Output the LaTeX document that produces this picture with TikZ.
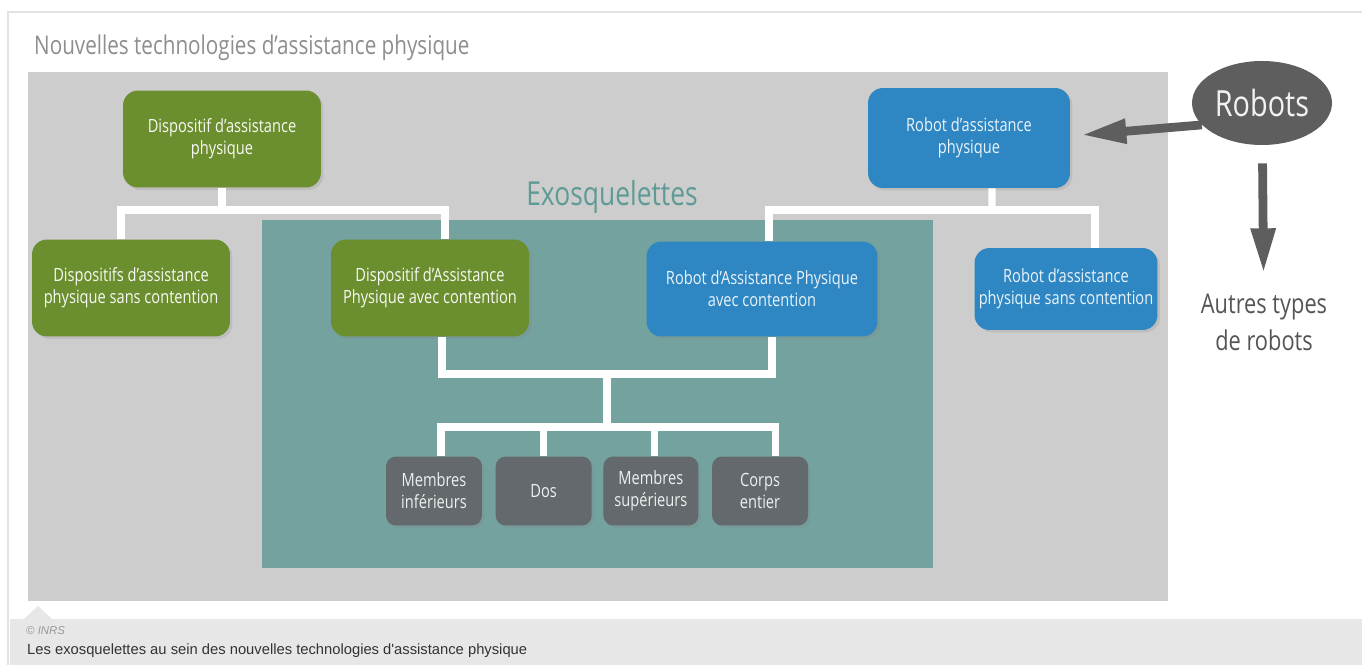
\documentclass[tikz,border=0pt]{standalone}
\usepackage{fontspec}
\setmainfont{Liberation Sans}
\newfontfamily\narrowfont[FakeStretch=0.8]{Open Sans}
\usetikzlibrary{positioning,calc,shapes.geometric,arrows.meta,shadows}

\definecolor{frameGray}{HTML}{E2E2E2}
\definecolor{areaGray}{HTML}{CDCDCD}
\definecolor{exoTeal}{HTML}{74A29E}
\definecolor{exoText}{HTML}{5E9B96}
\definecolor{dapGreen}{HTML}{6B8E2E}
\definecolor{rapBlue}{HTML}{2E87C2}
\definecolor{zoneGray}{HTML}{63696C}
\definecolor{robotGray}{HTML}{5E5E5E}
\definecolor{titleGray}{HTML}{8E8E8E}
\definecolor{bandGray}{HTML}{E7E7E7}

\begin{document}
\begin{tikzpicture}[x=0.02cm, y=-0.02cm,
  box/.style={rectangle, rounded corners=0.3cm, align=center, inner sep=0pt,
    font=\narrowfont\fontsize{10.4}{12.5}\selectfont,
    drop shadow={opacity=0.2, shadow xshift=0.05cm, shadow yshift=-0.05cm}},
  dapbox/.style={box, fill=dapGreen, text=white!95!dapGreen,
    minimum width=3.96cm, minimum height=1.94cm},
  rapbox/.style={box, fill=rapBlue, text=white!90!rapBlue,
    minimum width=4.04cm, minimum height=2cm},
  zonebox/.style={box, fill=zoneGray, text=white!90!zoneGray,
    rounded corners=0.2cm, minimum width=1.92cm, minimum height=1.38cm},
  link/.style={draw=white, line width=4pt},
  bigarrow/.style={draw=robotGray, line width=5pt,
    -{Triangle[length=0.9cm, width=0.46cm]}}]

  \useasboundingbox (0,0) rectangle (1362,665);
  \fill[white] (0,0) rectangle (1362,665);

  % Frame, caption band and background areas
  \draw[frameGray, line width=0.6pt] (8,665) -- (8,12) -- (1362,12);
  \fill[bandGray] (10,619) rectangle (1362,665);
  \fill[bandGray] (24,619) -- (38,606) -- (52,619) -- cycle;
  \fill[areaGray] (28,72) rectangle (1168,601);
  \fill[exoTeal] (262,220) rectangle (933,568);

  % Titles
  \node[anchor=west, text=titleGray, font=\narrowfont\fontsize{14.7}{17}\selectfont]
    (title) at (28,48) {Nouvelles technologies d’assistance physique};
  \node[text=exoText, font=\narrowfont\fontsize{18.8}{22}\selectfont]
    (exo) at (612,197) {Exosquelettes};

  % Dispositifs (green)
  \node[dapbox] (dap) at (222,139) {Dispositif d’assistance\\physique};
  \node[dapbox] (dsc) at (131,288) {Dispositifs d’assistance\\physique sans contention};
  \node[dapbox] (dac) at (430,288) {Dispositif d’Assistance\\Physique avec contention};

  % Robots (blue)
  \node[rapbox] (rap) at (969,138) {Robot d’assistance\\physique};
  \node[rapbox, minimum width=4.62cm, minimum height=1.9cm]
    (rac) at (762,289) {Robot d’Assistance Physique\\avec contention};
  \node[rapbox, minimum width=3.66cm, minimum height=1.64cm]
    (rsc) at (1066,289) {Robot d’assistance\\physique sans contention};

  % Body zones
  \node[zonebox] (mi) at (434,491) {Membres\\inférieurs};
  \node[zonebox] (dos) [right=0.26cm of mi] {Dos};
  \node[zonebox, minimum width=1.9cm] (ms) [right=0.22cm of dos] {Membres\\supérieurs};
  \node[zonebox] (ce) [right=0.26cm of ms] {Corps\\entier};

  % Robots and other robots
  \node[ellipse, fill=robotGray, text=white!92!robotGray, inner sep=0pt,
    minimum width=2.8cm, minimum height=1.68cm,
    font=\narrowfont\fontsize{20.5}{24}\selectfont] (robots) at (1262,103) {Robots};
  \node[align=center, inner sep=0pt, text=robotGray!90!black,
    font=\narrowfont\fontsize{15.5}{21}\selectfont] (autres) at (1264,322) {Autres types\\de robots};

  % Tree connectors
  \coordinate (gj) at (222,210);
  \coordinate (bj) at (992,210);
  \coordinate (lj) at (607,374);
  \coordinate (zj) at (607,427);
  \draw[link] (dap) -- (gj);
  \draw[link] ([xshift=-0.2cm]dsc.north) |- (gj) -| ([xshift=0.3cm]dac.north);
  \draw[link] ([xshift=0.46cm]rap.south) -- (bj);
  \draw[link] ([xshift=0.14cm]rac.north) |- (bj) -| ([xshift=0.58cm]rsc.north);
  \draw[link] ([xshift=0.24cm]dac.south) |- (lj) -| ([xshift=0.2cm]rac.south);
  \draw[link] (lj) -- (zj);
  \draw[link] ([xshift=0.14cm]mi.north) |- (zj) -| ([xshift=0.3cm]ce.north);
  \draw[link] (dos.north) -- (dos.north |- zj);
  \draw[link] ([xshift=0.07cm]ms.north) -- ([xshift=0.07cm]ms.north |- zj);

  % Arrows from Robots
  \draw[bigarrow] (robots.200) -- ([xshift=0.22cm, yshift=0.06cm]rap.east);
  \draw[bigarrow, shorten <=0.36cm, shorten >=0.4cm] (robots) -- (autres);

  % Caption
  \node[anchor=west, text=gray!80, font=\fontsize{6.5}{8}\selectfont\itshape]
    (credit) at (20,631) {© INRS};
  \node[anchor=west, text=black!80, font=\fontsize{8.4}{10}\selectfont]
    (caption) at (21,651) {Les exosquelettes au sein des nouvelles technologies d\textquotesingle assistance physique};

\end{tikzpicture}
\end{document}
